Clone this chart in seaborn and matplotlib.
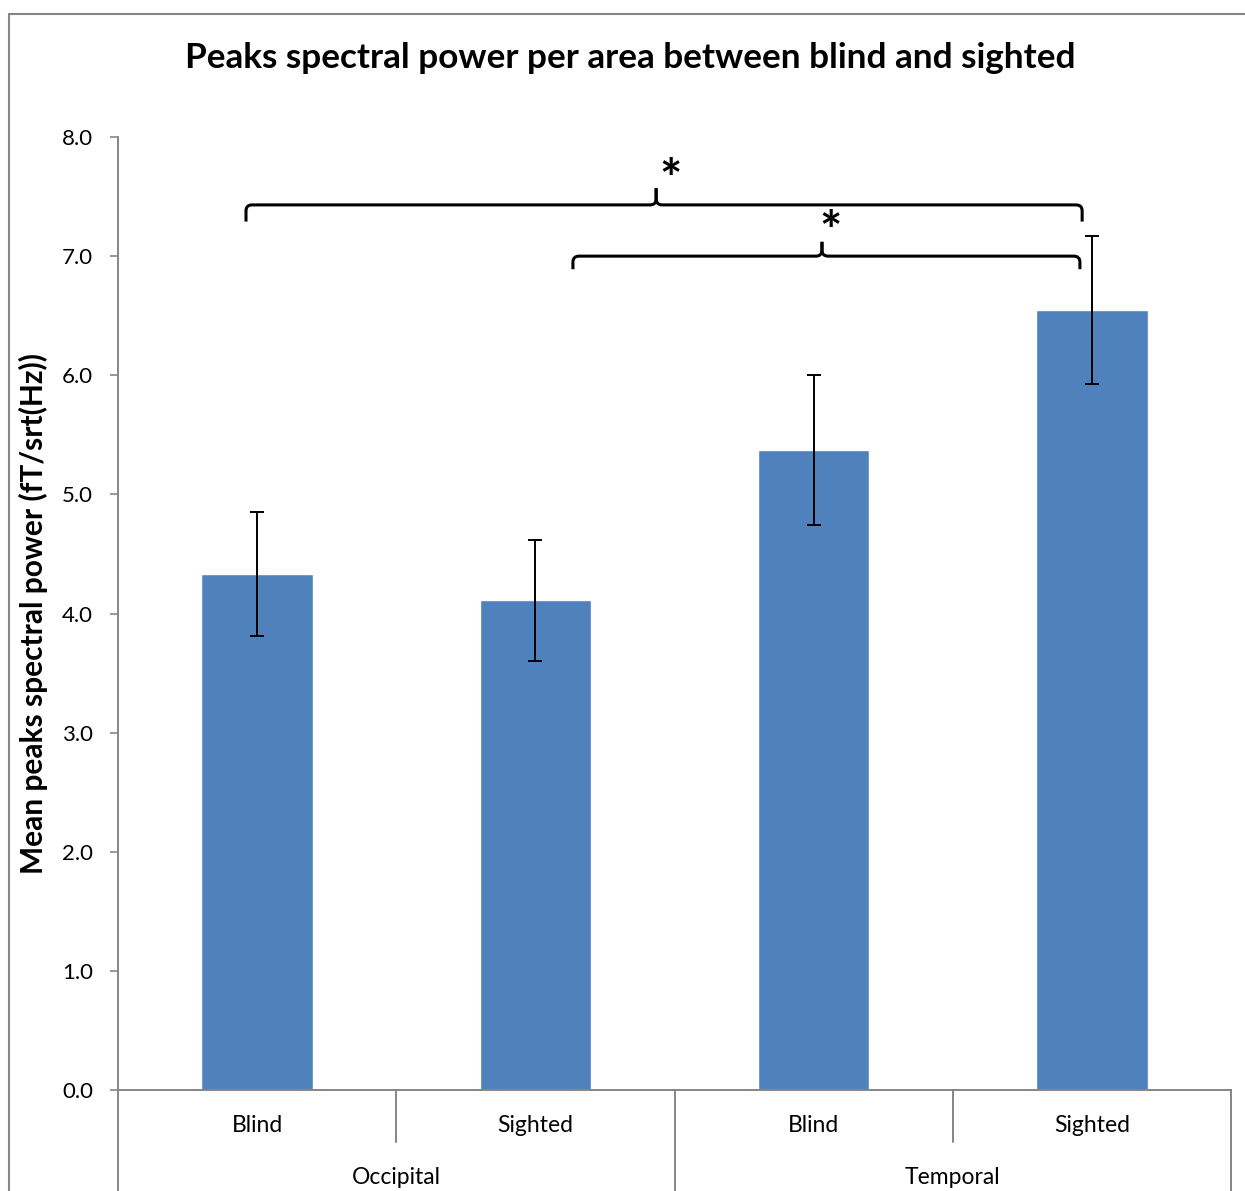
import numpy as np
import pandas as pd
import matplotlib
matplotlib.use("Agg")
import matplotlib.pyplot as plt
from matplotlib.path import Path
from matplotlib.patches import PathPatch
from matplotlib.lines import Line2D
import seaborn as sns

# ---- data ----
areas = ["Occipital", "Occipital", "Temporal", "Temporal"]
groups = ["Blind", "Sighted", "Blind", "Sighted"]
mean_power = [4.33, 4.11, 5.37, 6.55]
sem_power = [0.52, 0.51, 0.63, 0.62]
y_ticks = [0.0, 1.0, 2.0, 3.0, 4.0, 5.0, 6.0, 7.0, 8.0]

title = "Peaks spectral power per area between blind and sighted"
y_label = "Mean peaks spectral power (fT/srt(Hz))"

df = pd.DataFrame({
    "cond": [f"{a} {g}" for a, g in zip(areas, groups)],
    "area": areas,
    "group": groups,
    "power": mean_power,
})

sns.set_style("white")
plt.rcParams["font.family"] = ["Lato", "DejaVu Sans"]
plt.rcParams["text.color"] = "black"
plt.rcParams["axes.labelcolor"] = "black"
plt.rcParams["ytick.labelcolor"] = "black"
plt.rcParams["xtick.labelcolor"] = "black"

W, H = 1245, 1191
fig = plt.figure(figsize=(W / 100, H / 100), dpi=100)
ax = fig.add_axes([118 / W, 1 - 1090 / H, (1231 - 118) / W, (1090 - 137) / H])

bar_color = "#4F81BD"
axis_gray = "#868686"

sns.barplot(data=df, x="cond", y="power", color=bar_color, width=0.4,
            errorbar=None, saturation=1, ax=ax)
xs = np.arange(len(df))
ax.errorbar(xs, mean_power, yerr=sem_power, fmt="none", ecolor="black",
            elinewidth=1.4, capsize=5, capthick=1.4, zorder=5)

ax.set_xlim(-0.5, len(df) - 0.5)
ax.set_ylim(0, 8)
ax.set_yticks(y_ticks)
ax.set_yticklabels([f"{t:.1f}" for t in y_ticks], fontsize=16, color="black")
ax.set_xticks([])
ax.set_xlabel("")
ax.set_ylabel(y_label, fontsize=21.5, fontweight="bold", labelpad=10,
              color="black")
ax.tick_params(axis="y", direction="out", length=6, width=1.2,
               color=axis_gray, left=True, pad=12, labelcolor="black")
for s in ["top", "right"]:
    ax.spines[s].set_visible(False)
for s in ["left", "bottom"]:
    ax.spines[s].set_color(axis_gray)
    ax.spines[s].set_linewidth(1.4)

# two-level category axis below the bars
tr = ax.get_xaxis_transform()
ax_h_px = 1090 - 137
def px_to_axes_y(px_below):
    return -px_below / ax_h_px

for i in range(len(df) + 1):
    xb = i - 0.5
    outer = i % 2 == 0
    y_end = px_to_axes_y(110 if outer else 52)
    ax.add_line(Line2D([xb, xb], [0, y_end], transform=tr, color=axis_gray,
                       lw=1.4, clip_on=False))
for x, g in zip(xs, groups):
    ax.text(x, px_to_axes_y(35), g, transform=tr, ha="center", va="center",
            fontsize=16.5, color="black")
for k, a in enumerate(["Occipital", "Temporal"]):
    ax.text(2 * k + 0.5, px_to_axes_y(88), a, transform=tr, ha="center",
            va="center", fontsize=16.5, color="black")

# significance braces
def brace(x0, x1, xm, y, drop=0.14, tip=0.14, rx=0.022, ry=0.05):
    left = [(x0, y - drop), (x0, y - ry), (x0, y), (x0 + rx, y),
            (xm - rx, y), (xm, y), (xm, y + ry), (xm, y + tip)]
    right = [(x1, y - drop), (x1, y - ry), (x1, y), (x1 - rx, y),
             (xm + rx, y), (xm, y), (xm, y + ry), (xm, y + tip)]
    codes = [Path.MOVETO, Path.LINETO, Path.CURVE3, Path.CURVE3,
             Path.LINETO, Path.CURVE3, Path.CURVE3, Path.LINETO]
    for pts in (left, right):
        ax.add_patch(PathPatch(Path(pts, codes), fill=False, lw=2.2,
                               edgecolor="black", clip_on=False,
                               capstyle="butt", joinstyle="round"))

brace(-0.04, 2.965, 1.434, 7.43)
ax.text(1.484, 7.62, "*", ha="center", va="center", fontsize=38,
        fontweight="bold", color="black")
brace(1.135, 2.957, 2.03, 7.0, drop=0.11, tip=0.12)
ax.text(2.062, 7.18, "*", ha="center", va="center", fontsize=38,
        fontweight="bold", color="black")

fig.text(630 / W, 1 - 58 / H, title, ha="center", va="center",
         fontsize=25.3, fontweight="bold", color="black")

# chart-area frame (top and left edges)
fig.add_artist(Line2D([9 / W, 1.0], [1 - 14 / H, 1 - 14 / H],
                      transform=fig.transFigure, color=axis_gray, lw=1.5))
fig.add_artist(Line2D([9 / W, 9 / W], [0, 1 - 14 / H],
                      transform=fig.transFigure, color=axis_gray, lw=1.5))

fig.savefig("out.png", dpi=100, facecolor="white")
